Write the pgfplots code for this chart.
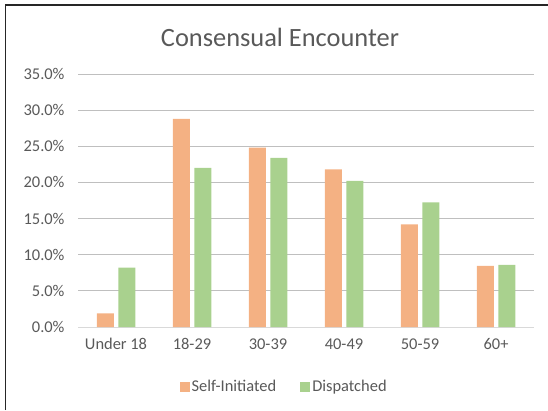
\documentclass[border=0pt]{standalone}
\usepackage{pgfplots}
\pgfplotsset{compat=1.18}
\usepackage{fontspec}
\setmainfont{Carlito}
\definecolor{txt}{HTML}{595959}
\definecolor{grid}{HTML}{D9D9D9}
\definecolor{selfc}{HTML}{F4B183}
\definecolor{dispc}{HTML}{A9D18E}
\pgfplotstableread{
x self disp
0 1.9 8.2
1 28.8 22.0
2 24.8 23.4
3 21.8 20.2
4 14.2 17.25
5 8.45 8.6
}\datatab
\begin{document}
\begin{tikzpicture}[x=1bp,y=1bp]
\useasboundingbox (0,0) rectangle (548,410);
\draw[line width=1.3bp,black!85] (5.5,0) -- (5.5,405) -- (548,405);
\node[text=txt,font=\fontsize{26.5}{30}\selectfont] at (280,373) {Consensual Encounter};
\begin{axis}[
  at={(78bp,83bp)}, anchor=south west,
  scale only axis, width=456bp, height=253bp,
  xmin=-0.5, xmax=5.5, ymin=0, ymax=35,
  xtick=data, xticklabels={Under 18,18-29,30-39,40-49,50-59,60+},
  ytick={0,5,...,35},
  yticklabel={\pgfmathprintnumber[fixed,fixed zerofill,precision=1]{\tick}\%},
  /pgf/number format/assume math mode=true,
  ymajorgrids, xmajorgrids=false, grid style={grid, line width=0.9bp},
  axis x line*=bottom, axis y line*=left,
  x axis line style={grid, line width=0.9bp, -},
  y axis line style={draw=none},
  major tick length=0pt,
  tick label style={text=txt, font=\fontsize{16.5}{19}\selectfont},
  yticklabel style={xshift=-10bp},
  xticklabel style={yshift=-8bp},
  ybar, bar width=17bp,
  legend style={at={(0.452,-0.236)}, anchor=center, draw=none, legend columns=2,
    font=\fontsize{16.5}{19}\selectfont, text=txt,
    /tikz/every even column/.append style={column sep=22bp}},
  legend image code/.code={\fill[#1] (0bp,-5bp) rectangle (10bp,5bp);},
  clip=false,
]
\addplot[fill=selfc, draw=none, bar shift=-10.75bp] table[x=x,y=self]{\datatab};
\addplot[fill=dispc, draw=none, bar shift=10.75bp] table[x=x,y=disp]{\datatab};
\legend{Self-Initiated,Dispatched}
\end{axis}
\end{tikzpicture}
\end{document}
